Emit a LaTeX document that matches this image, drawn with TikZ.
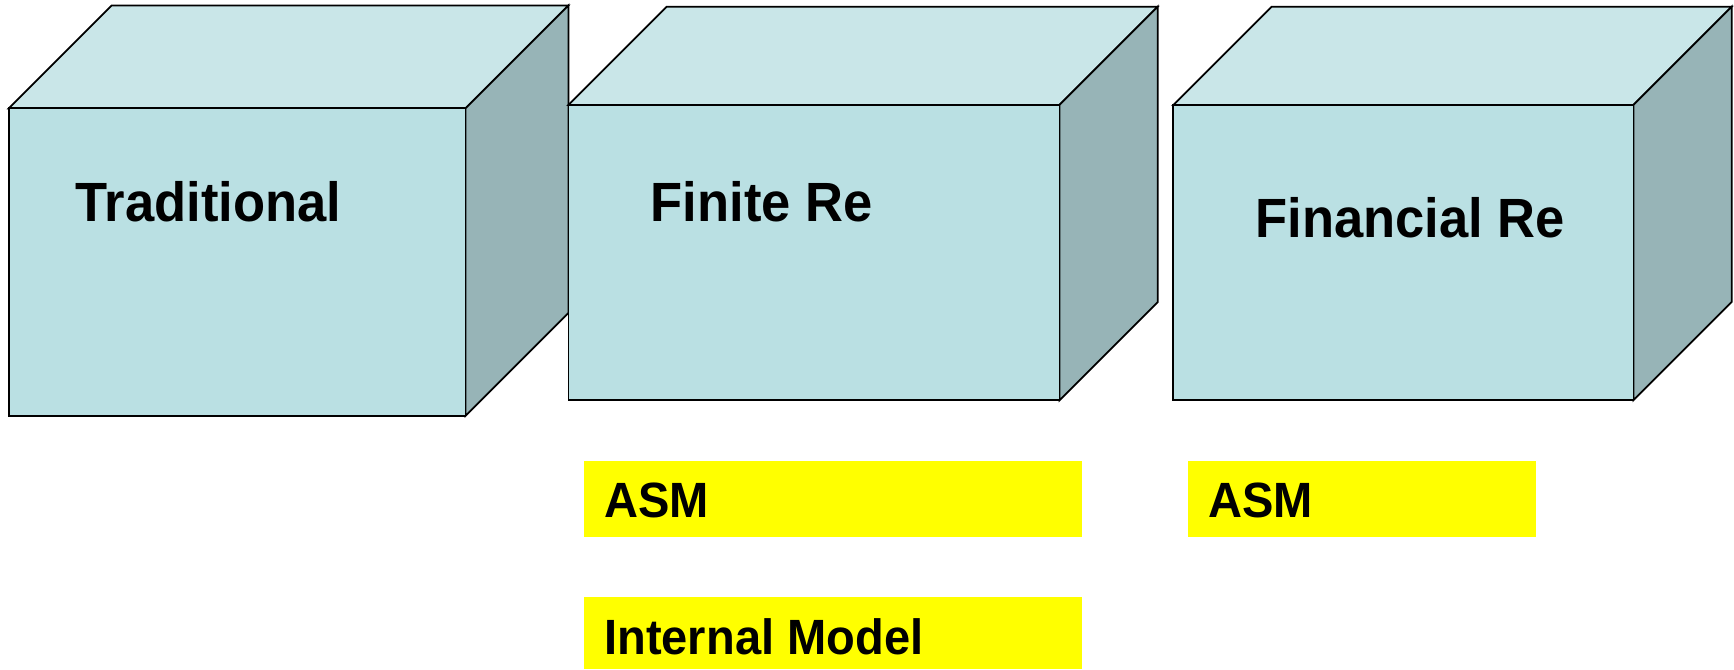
\documentclass[tikz,border=0pt]{standalone}
\usepackage{fontspec}
\setmainfont{Liberation Sans}
\newfontfamily\narrowsans[FakeStretch=0.95]{Liberation Sans}

\definecolor{cubefront}{RGB}{186,224,227}
\definecolor{cubetop}{RGB}{201,230,232}
\definecolor{cubeside}{RGB}{151,180,183}
\definecolor{tagyellow}{RGB}{255,255,0}

% box in perspective: #1,#2 top left of front face, #3 width, #4 height, #5 depth
\newcommand{\drawcube}[5]{
  \filldraw[cubeedge,fill=cubetop] (#1,#2) -- ++(#5,-#5) -- ++(#3,0) -- ++(-#5,#5) -- cycle;
  \filldraw[cubeedge,fill=cubeside] (#1+#3,#2) -- ++(#5,-#5) -- ++(0,#4) -- ++(-#5,#5) -- cycle;
  \filldraw[cubeedge,fill=cubefront] (#1,#2) rectangle ++(#3,#4);
}

\begin{document}
\begin{tikzpicture}[x=0.5pt,y=-0.5pt]
  \tikzstyle{cubeedge}=[draw=black,line width=0.8pt]
  \tikzstyle{boxtitle}=[anchor=base west,inner sep=0pt,font=\narrowsans\fontsize{25pt}{30pt}\selectfont\bfseries]
  \tikzstyle{tagtext}=[anchor=base west,inner sep=0pt,font=\narrowsans\fontsize{22.4pt}{27pt}\selectfont\bfseries]
  \useasboundingbox (0,0) rectangle (1568,605);

  \drawcube{8}{98}{413}{278}{93}
  \drawcube{514}{95}{444}{267}{89}
  \drawcube{1061}{95}{416}{267}{89}

  \node[boxtitle] (trad) at (68,200) {Traditional};
  \node[boxtitle] (finite) at (588,200) {Finite Re};
  \node[boxtitle] (financial) at (1135,215) {Financial Re};

  % yellow tags under the boxes
  \fill[tagyellow] (528,417) rectangle (978,486);
  \fill[tagyellow] (528,540) rectangle (978,605);
  \fill[tagyellow] (1074,417) rectangle (1389,486);
  \node[tagtext] (asmfin) at (546,468) {ASM};
  \node[tagtext] (intmodel) at (546,592) {Internal Model};
  \node[tagtext] (asmfinan) at (1092,468) {ASM};
\end{tikzpicture}
\end{document}
